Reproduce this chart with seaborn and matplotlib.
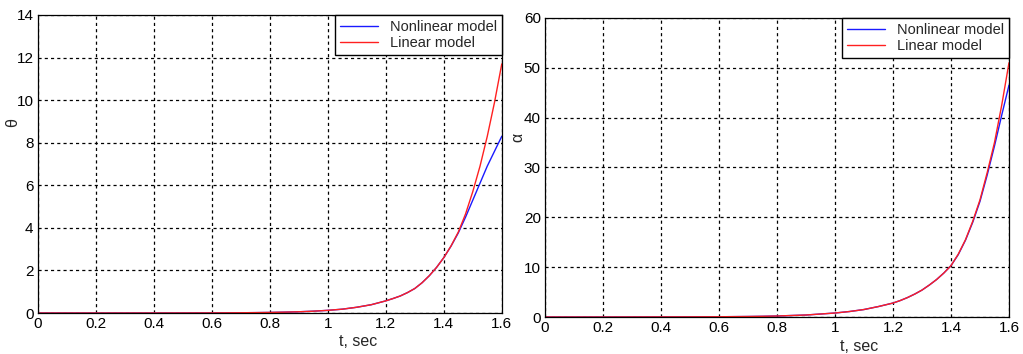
import matplotlib
matplotlib.use("Agg")
import matplotlib.pyplot as plt
import seaborn as sns
import pandas as pd

# time samples (s)
t = [0.0, 0.1, 0.2, 0.3, 0.4, 0.5, 0.6, 0.7, 0.75, 0.8, 0.85, 0.9, 0.95, 1.0,
     1.05, 1.1, 1.15, 1.2, 1.225, 1.25, 1.275, 1.3, 1.325, 1.35, 1.375, 1.4,
     1.425, 1.45, 1.475, 1.5, 1.525, 1.55, 1.575, 1.6]

theta_linear = [0.0, 0.0, 0.0, 0.0, 0.001, 0.002, 0.005, 0.012, 0.018, 0.027, 0.04,
                0.058, 0.085, 0.125, 0.18, 0.27, 0.39, 0.57, 0.68, 0.8, 0.96, 1.15,
                1.42, 1.75, 2.14, 2.6, 3.15, 3.8, 4.65, 5.7, 6.9, 8.3, 9.9, 11.7]
theta_nonlinear = [0.0, 0.0, 0.0, 0.0, 0.001, 0.002, 0.005, 0.012, 0.018, 0.027, 0.04,
                   0.058, 0.085, 0.125, 0.18, 0.27, 0.39, 0.57, 0.68, 0.8, 0.96, 1.15,
                   1.42, 1.75, 2.14, 2.6, 3.14, 3.76, 4.5, 5.3, 6.1, 6.9, 7.6, 8.3]

alpha_linear = [0.0, 0.0, 0.0, 0.01, 0.02, 0.03, 0.05, 0.1, 0.14, 0.2, 0.3, 0.4,
                0.6, 0.8, 1.1, 1.5, 2.1, 2.8, 3.3, 3.9, 4.6, 5.4, 6.4, 7.5, 8.8,
                10.3, 12.6, 15.5, 19.2, 23.5, 29.0, 35.0, 42.5, 51.0]
alpha_nonlinear = [0.0, 0.0, 0.0, 0.01, 0.02, 0.03, 0.05, 0.1, 0.14, 0.2, 0.3, 0.4,
                   0.6, 0.8, 1.1, 1.5, 2.1, 2.8, 3.3, 3.9, 4.6, 5.4, 6.4, 7.5, 8.8,
                   10.3, 12.5, 15.4, 19.0, 23.2, 28.5, 34.3, 40.5, 46.5]

series_labels = ["Nonlinear model", "Linear model"]
series_colors = ["#1a1aff", "#ff2020"]
x_ticks = [0, 0.2, 0.4, 0.6, 0.8, 1.0, 1.2, 1.4, 1.6]
x_ticklabels = ["0", "0.2", "0.4", "0.6", "0.8", "1", "1.2", "1.4", "1.6"]
theta_ticks = [0, 2, 4, 6, 8, 10, 12, 14]
alpha_ticks = [0, 10, 20, 30, 40, 50, 60]

sns.set_style("white")
plt.rcParams['font.family'] = ['Liberation Sans', 'DejaVu Sans']

fig = plt.figure(figsize=(10.23, 3.54), dpi=100)
ax1 = fig.add_axes([0.0369, 0.1158, 0.4536, 0.842])
ax2 = fig.add_axes([0.5327, 0.1045, 0.4536, 0.845])


def make_df(nonlin, lin):
    rows = []
    for lab, vals in zip(series_labels, [nonlin, lin]):
        for ti, v in zip(t, vals):
            rows.append({"t": ti, "v": v, "model": lab})
    return pd.DataFrame(rows)


def draw(ax, df, yticks, ylabel, ylab_pos, xlab_pos):
    sns.lineplot(data=df, x="t", y="v", hue="model", hue_order=series_labels,
                 palette=series_colors, linewidth=1.0, ax=ax, legend=True)
    ax.set_xlim(0, 1.6)
    ax.set_ylim(yticks[0], yticks[-1])
    ax.set_xticks(x_ticks)
    ax.set_xticklabels(x_ticklabels)
    ax.set_yticks(yticks)
    ax.tick_params(direction="in", length=3, labelsize=11, colors="black", pad=3)
    ax.grid(True, color="black", linestyle=(0, (2.5, 2.5)), linewidth=0.9)
    for s in ax.spines.values():
        s.set_color("black")
        s.set_linewidth(0.9)
    ax.set_xlabel("t, sec", fontsize=11.5)
    ax.xaxis.set_label_coords(*xlab_pos)
    ax.set_ylabel(ylabel, fontsize=11.5, rotation=90)
    ax.yaxis.set_label_coords(*ylab_pos)
    leg = ax.legend(loc="upper right", bbox_to_anchor=(1.0, 1.0), borderaxespad=0,
                    fancybox=False, framealpha=1, edgecolor="black", fontsize=10.5,
                    handlelength=2.6, labelspacing=0.15, borderpad=0.35,
                    handletextpad=0.8)
    leg.get_frame().set_linewidth(1.0)
    leg.get_frame().set_boxstyle("square", pad=0)
    leg.set_zorder(5)


draw(ax1, make_df(theta_nonlinear, theta_linear), theta_ticks, "θ",
     (-0.037, 0.64), (0.69, -0.07))
draw(ax2, make_df(alpha_nonlinear, alpha_linear), alpha_ticks, "α",
     (-0.042, 0.60), (0.677, -0.075))

fig.savefig("out.png", dpi=100)
